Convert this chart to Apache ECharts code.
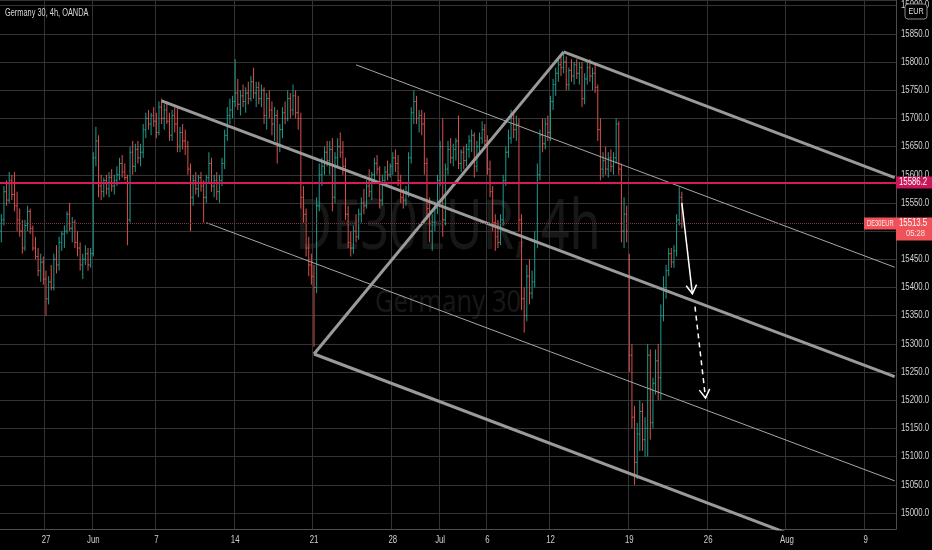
<!DOCTYPE html>
<html>
<head>
<meta charset="utf-8">
<script src="https://cdn.jsdelivr.net/npm/echarts@6/dist/echarts.min.js"></script>
<style>
html,body{margin:0;padding:0;background:#000;}
#main{width:932px;height:550px;}
</style>
</head>
<body>
<div id="main"></div>
<script>
// time axis: trading days (weekends skipped), six 4h bars a day
var firstDay = '2021-05-24';
var lastDay = '2021-08-10';
var firstSlot = 1;
var lastSlot = 5;
var slotHours = ['00:00', '04:00', '08:00', '12:00', '16:00', '20:00'];

var tickDates  = ['2021-05-27','2021-06-01','2021-06-07','2021-06-14','2021-06-21','2021-06-28','2021-07-01','2021-07-06','2021-07-12','2021-07-19','2021-07-26','2021-08-02','2021-08-09'];
var tickLabels = ['27','Jun','7','14','21','28','Jul','6','12','19','26','Aug','9'];
var priceTicks = [15000,15050,15100,15150,15200,15250,15300,15350,15400,15450,15500,15550,15600,15650,15700,15750,15800,15850,15900];

// 4h bars: [open, high, low, close]
var ohlc = [
[15500,15530,15480,15520],[15520,15580,15510,15570],[15570,15590,15545,15555],[15555,15605,15550,15590],[15590,15600,15555,15565],
[15565,15605,15535,15545],[15545,15570,15500,15520],[15520,15540,15490,15500],[15500,15520,15460,15470],[15470,15520,15465,15510],[15510,15545,15500,15535],
[15535,15540,15495,15505],[15505,15510,15465,15470],[15470,15490,15450,15455],[15455,15470,15420,15430],[15430,15460,15410,15445],[15445,15455,15405,15415],
[15415,15430,15350,15380],[15380,15420,15370,15410],[15410,15440,15395,15400],[15400,15460,15395,15450],[15450,15475,15425,15440],[15440,15490,15430,15480],
[15480,15500,15465,15495],[15495,15510,15470,15500],[15500,15535,15495,15530],[15530,15550,15500,15505],[15505,15525,15480,15515],[15515,15520,15470,15480],
[15480,15500,15455,15470],[15470,15480,15430,15440],[15440,15460,15415,15450],[15450,15475,15440,15460],[15460,15470,15430,15440],[15440,15470,15435,15460],
[15460,15640,15455,15630],[15630,15685,15615,15660],[15660,15670,15560,15580],[15580,15600,15555,15570],[15570,15595,15560,15590],[15590,15600,15565,15575],
[15575,15605,15560,15595],[15595,15610,15570,15580],[15580,15600,15565,15590],[15590,15615,15580,15600],[15600,15630,15590,15620],[15620,15635,15595,15605],
[15605,15620,15590,15595],[15595,15600,15475,15520],[15520,15650,15515,15640],[15640,15660,15600,15615],[15615,15655,15605,15645],[15645,15660,15620,15630],
[15630,15655,15615,15640],[15640,15690,15630,15680],[15680,15710,15665,15700],[15700,15715,15680,15690],[15690,15710,15670,15705],[15705,15720,15685,15695],
[15695,15710,15665,15675],[15675,15730,15670,15720],[15720,15735,15690,15700],[15700,15725,15680,15715],[15715,15730,15690,15695],[15695,15710,15660,15670],
[15670,15715,15660,15705],[15705,15720,15675,15690],[15690,15720,15640,15650],[15650,15685,15640,15675],[15675,15690,15645,15660],[15660,15680,15635,15650],
[15650,15660,15600,15610],[15610,15620,15500,15560],[15560,15600,15545,15590],[15590,15605,15565,15575],[15575,15600,15560,15595],[15595,15605,15570,15580],
[15580,15590,15515,15560],[15560,15600,15550,15595],[15595,15640,15585,15620],[15620,15630,15570,15580],[15580,15600,15560,15590],[15590,15605,15555,15570],
[15570,15600,15550,15590],[15590,15630,15580,15620],[15620,15680,15610,15670],[15670,15720,15660,15705],[15705,15735,15690,15715],[15715,15740,15700,15730],
[15730,15805,15720,15745],[15745,15770,15715,15725],[15725,15750,15705,15740],[15740,15760,15720,15730],[15730,15755,15710,15745],[15745,15765,15725,15735],
[15735,15775,15730,15765],[15765,15790,15735,15745],[15745,15765,15720,15755],[15755,15765,15725,15735],[15735,15760,15720,15750],[15750,15755,15690,15705],
[15705,15745,15680,15735],[15735,15750,15700,15715],[15715,15730,15670,15690],[15690,15720,15660,15705],[15705,15715,15620,15650],[15650,15690,15640,15680],
[15680,15720,15665,15710],[15710,15730,15690,15700],[15700,15750,15695,15735],[15735,15745,15700,15715],[15715,15760,15705,15740],[15740,15750,15700,15710],
[15710,15740,15680,15700],[15700,15710,15540,15560],[15560,15580,15515,15530],[15530,15540,15455,15470],[15470,15490,15420,15440],[15440,15460,15405,15420],
[15420,15440,15295,15400],[15400,15560,15390,15545],[15545,15620,15535,15600],[15600,15630,15580,15615],[15615,15650,15600,15640],[15640,15660,15615,15625],
[15625,15660,15600,15645],[15645,15665,15535,15560],[15560,15640,15550,15630],[15630,15665,15615,15650],[15650,15675,15630,15640],[15640,15660,15600,15615],
[15615,15630,15520,15530],[15530,15545,15470,15480],[15480,15500,15455,15470],[15470,15510,15460,15500],[15500,15530,15480,15490],[15490,15540,15485,15530],
[15530,15560,15515,15550],[15550,15575,15530,15545],[15545,15590,15540,15580],[15580,15610,15560,15570],[15570,15605,15555,15600],[15600,15630,15590,15620],
[15620,15635,15600,15610],[15610,15615,15540,15555],[15555,15600,15545,15590],[15590,15615,15580,15605],[15605,15625,15590,15600],[15600,15620,15595,15615],
[15615,15640,15600,15630],[15630,15645,15605,15620],[15620,15635,15580,15590],[15590,15600,15550,15560],[15560,15575,15540,15555],[15555,15580,15545,15570],
[15570,15640,15560,15630],[15630,15720,15620,15710],[15710,15750,15690,15730],[15730,15740,15690,15700],[15700,15715,15675,15705],[15705,15715,15670,15690],
[15690,15710,15600,15620],[15620,15630,15520,15540],[15540,15560,15480,15500],[15500,15530,15465,15515],[15515,15550,15500,15540],[15540,15600,15530,15590],
[15590,15660,15580,15650],[15650,15700,15490,15520],[15520,15620,15510,15610],[15610,15660,15600,15645],[15645,15665,15620,15630],[15630,15655,15615,15645],
[15645,15665,15625,15660],[15660,15705,15610,15620],[15620,15645,15605,15640],[15640,15650,15610,15625],[15625,15655,15615,15645],[15645,15670,15630,15660],
[15660,15680,15640,15670],[15670,15675,15595,15615],[15615,15660,15605,15650],[15650,15675,15640,15665],[15665,15695,15655,15680],[15680,15690,15650,15660],
[15660,15670,15600,15610],[15610,15625,15560,15570],[15570,15580,15500,15515],[15515,15530,15465,15490],[15490,15520,15470,15480],[15480,15530,15475,15520],
[15520,15600,15510,15590],[15590,15650,15580,15640],[15640,15680,15630,15665],[15665,15715,15655,15700],[15700,15710,15665,15680],[15680,15705,15660,15690],
[15690,15700,15500,15520],[15520,15530,15360,15380],[15380,15400,15320,15350],[15350,15440,15340,15420],[15420,15450,15370,15390],[15390,15430,15380,15410],
[15410,15500,15400,15480],[15480,15620,15470,15600],[15600,15680,15590,15670],[15670,15700,15640,15655],[15655,15700,15645,15690],[15690,15705,15660,15675],
[15675,15740,15660,15730],[15730,15770,15715,15760],[15760,15790,15740,15780],[15780,15805,15765,15795],[15795,15810,15775,15790],[15790,15816,15780,15800],
[15800,15810,15750,15760],[15760,15790,15750,15785],[15785,15805,15765,15775],[15775,15800,15760,15795],[15795,15805,15770,15780],[15780,15800,15760,15790],
[15790,15800,15720,15735],[15735,15780,15725,15770],[15770,15800,15760,15790],[15790,15805,15765,15775],[15775,15790,15750,15780],[15780,15795,15745,15755],
[15755,15760,15660,15680],[15680,15700,15590,15610],[15610,15640,15595,15625],[15625,15650,15600,15610],[15610,15640,15595,15630],[15630,15645,15605,15615],
[15615,15640,15600,15630],[15630,15700,15620,15690],[15690,15695,15600,15610],[15610,15620,15480,15500],[15500,15560,15470,15530],[15530,15545,15480,15500],
[15450,15460,15250,15280],[15280,15300,15150,15170],[15170,15190,15050,15090],[15090,15160,15060,15140],[15140,15200,15110,15180],[15180,15195,15110,15130],
[15130,15170,15100,15150],[15150,15300,15100,15280],[15280,15290,15130,15160],[15160,15240,15150,15230],[15230,15290,15210,15270],[15270,15300,15200,15240],
[15240,15370,15200,15350],[15350,15420,15340,15400],[15400,15440,15380,15430],[15430,15470,15420,15460],[15460,15470,15435,15445],[15445,15475,15435,15465],
[15465,15530,15455,15520],[15520,15578,15510,15560],[15560,15570,15505,15513.5]
];

// drawn annotations, [bar index, price] pairs
var thickLines = [
  [61, 15731, 340, 15242],
  [214, 15818, 340, 15595],
  [119, 15282, 340, 14892],
  [119, 15282, 214, 15818]
];
var thinLines = [
  [135, 15795, 340, 15436],
  [78, 15515, 340, 15057]
];
var solidArrow = [[259, 15550, 263, 15389]];
var dashedArrow = [[264, 15366, 268, 15204]];

var resistance = 15586.2;
var lastPrice = 15513.5;
var lastCountdown = '05:28';

// ---------------------------------------------------------------
var uiFont = "'Liberation Sans', 'DejaVu Sans', sans-serif";
var markFont = "'Noto Sans', 'Open Sans', sans-serif";

var categories = [];
var dayStart = {};
(function () {
  var d = new Date(firstDay + 'T00:00:00Z');
  var end = new Date(lastDay + 'T00:00:00Z');
  while (d <= end) {
    var wd = d.getUTCDay();
    if (wd !== 0 && wd !== 6) {
      var ds = d.toISOString().slice(0, 10);
      var s0 = ds === firstDay ? firstSlot : 0;
      var s1 = ds === lastDay ? lastSlot : 5;
      dayStart[ds] = categories.length;
      for (var s = s0; s <= s1; s++) categories.push(ds + ' ' + slotHours[s]);
    }
    d.setUTCDate(d.getUTCDate() + 1);
  }
})();

var tickAt = {};
tickDates.forEach(function (t, k) { tickAt[dayStart[t]] = tickLabels[k]; });
function isTick(index) { return tickAt[index] !== undefined; }

var barData = ohlc.map(function (b, i) { return [i, b[0], b[1], b[2], b[3]]; });

function renderBar(params, api) {
  var i = api.value(0);
  var o = api.value(1), h = api.value(2), l = api.value(3), c = api.value(4);
  var pH = api.coord([i, h]), pL = api.coord([i, l]);
  var pO = api.coord([i, o]), pC = api.coord([i, c]);
  var w = api.size([1, 0])[0] * 0.45;
  var col = c >= o ? '#1f9c8b' : '#d9504c';
  var st = { stroke: col, lineWidth: 1 };
  return {
    type: 'group',
    children: [
      { type: 'line', shape: { x1: pH[0], y1: pH[1], x2: pL[0], y2: pL[1] }, style: st },
      { type: 'line', shape: { x1: pO[0] - w, y1: pO[1], x2: pO[0], y2: pO[1] }, style: st },
      { type: 'line', shape: { x1: pC[0], y1: pC[1], x2: pC[0] + w, y2: pC[1] }, style: st }
    ]
  };
}

function arrowRenderer(dash) {
  return function (params, api) {
    var a = api.coord([api.value(0), api.value(1)]);
    var b = api.coord([api.value(2), api.value(3)]);
    var ang = Math.atan2(b[1] - a[1], b[0] - a[0]);
    var len = 10, spread = 0.55;
    var h1 = [b[0] - len * Math.cos(ang - spread), b[1] - len * Math.sin(ang - spread)];
    var h2 = [b[0] - len * Math.cos(ang + spread), b[1] - len * Math.sin(ang + spread)];
    return {
      type: 'group',
      children: [
        { type: 'line', shape: { x1: a[0], y1: a[1], x2: b[0], y2: b[1] },
          style: { stroke: '#ffffff', lineWidth: 1.5, lineDash: dash } },
        { type: 'polyline', shape: { points: [h1, b, h2] },
          style: { stroke: '#ffffff', lineWidth: 1.5, fill: null } }
      ]
    };
  };
}

function segSeries(seg, width, color) {
  return {
    type: 'line',
    data: [[seg[0], seg[1]], [seg[2], seg[3]]],
    symbol: 'none',
    silent: true,
    z: 4,
    lineStyle: { color: color, width: width }
  };
}

var series = [
  {
    type: 'custom',
    name: 'DE30EUR',
    renderItem: renderBar,
    data: barData,
    encode: { x: 0, y: [1, 2, 3, 4] },
    z: 3,
    markLine: {
      silent: true,
      symbol: 'none',
      label: { show: false },
      data: [
        { yAxis: resistance, lineStyle: { color: '#d41c5c', width: 2, type: 'solid' } },
        { yAxis: lastPrice, lineStyle: { color: '#7a3a3e', width: 1, type: 'dotted' } }
      ]
    }
  }
];
thickLines.forEach(function (s) { series.push(segSeries(s, 3, '#9a9a9a')); });
thinLines.forEach(function (s) { series.push(segSeries(s, 1, '#a6a6a6')); });
series.push({ type: 'custom', renderItem: arrowRenderer(null), data: solidArrow, encode: { x: [0, 2], y: [1, 3] }, z: 6 });
series.push({ type: 'custom', renderItem: arrowRenderer([5, 4]), data: dashedArrow, encode: { x: [0, 2], y: [1, 3] }, z: 6 });

var chart = echarts.init(document.getElementById('main'));
chart.setOption({
  backgroundColor: '#000000',
  animation: false,
  grid: { left: 0, right: 36, top: 0, bottom: 21, containLabel: false, outerBoundsMode: 'none' },
  xAxis: {
    type: 'category',
    data: categories,
    boundaryGap: true,
    axisLine: { show: true, lineStyle: { color: '#4d4d4d' } },
    axisTick: { show: false },
    axisLabel: { show: false },
    splitLine: {
      show: true,
      interval: function (index) { return isTick(index); },
      lineStyle: { color: '#333333', width: 1 }
    }
  },
  yAxis: {
    type: 'value',
    position: 'right',
    min: 14971.6,
    max: 15910,
    splitNumber: 19,
    minInterval: 50,
    maxInterval: 50,
    axisLine: { show: true, lineStyle: { color: '#4d4d4d' } },
    axisTick: { show: false },
    axisLabel: { show: false },
    splitLine: { lineStyle: { color: '#333333', width: 1 } }
  },
  series: series
});

// text in the screenshot is horizontally condensed, so labels are drawn as scaled text
function label(x, y, text, size, color, sx, z, extra) {
  var st = { text: text, fill: color, font: size + 'px ' + uiFont, verticalAlign: 'middle' };
  for (var k in (extra || {})) st[k] = extra[k];
  return { type: 'text', x: x, y: y, scaleX: sx, z: z, silent: true, style: st };
}

var right = chart.convertToPixel({ xAxisIndex: 0 }, categories.length - 1) + 1.3;
var bottom = chart.convertToPixel({ yAxisIndex: 0 }, 14971.6);
var yRes = chart.convertToPixel({ yAxisIndex: 0 }, resistance);
var yLast = chart.convertToPixel({ yAxisIndex: 0 }, lastPrice);
var paneMid = right / 2;

var g = [
  { type: 'text', x: paneMid, y: 229, scaleX: 0.72, z: -5, silent: true,
    style: { text: 'DE30EUR, 4h', fill: 'rgba(255,255,255,0.09)', font: '70px ' + markFont, align: 'center', verticalAlign: 'middle' } },
  { type: 'text', x: paneMid, y: 303, scaleX: 0.85, z: -5, silent: true,
    style: { text: 'Germany 30', fill: 'rgba(255,255,255,0.09)', font: '30px ' + markFont, align: 'center', verticalAlign: 'middle' } },
  label(5, 13, 'Germany 30, 4h, OANDA', 10, '#d8d8d8', 0.74, 40)
];

priceTicks.forEach(function (p) {
  g.push(label(right + 5, chart.convertToPixel({ yAxisIndex: 0 }, p), p.toFixed(1), 10, '#d4d4d4', 0.78, 40));
});
tickDates.forEach(function (t, k) {
  var x = chart.convertToPixel({ xAxisIndex: 0 }, dayStart[t]);
  g.push(label(x, bottom + 11, tickLabels[k], 10, '#cfcfcf', 0.78, 40, { align: 'center' }));
});

g.push(
  { type: 'rect', shape: { x: right, y: yRes - 6, width: 36, height: 12 }, z: 50, style: { fill: '#c8185a' } },
  label(right + 3, yRes, resistance.toFixed(1), 10, '#ffffff', 0.78, 51),
  { type: 'rect', shape: { x: right - 32, y: yLast - 6, width: 32, height: 12 }, z: 50, style: { fill: '#f0525a' } },
  label(right - 29, yLast, 'DE30EUR', 9, '#ffe9ea', 0.64, 51),
  { type: 'rect', shape: { x: right, y: yLast - 6, width: 36, height: 23 }, z: 50, style: { fill: '#f0525a' } },
  label(right + 3, yLast, lastPrice.toFixed(1), 10, '#ffffff', 0.78, 51),
  label(right + 10, yLast + 10, lastCountdown, 9.5, '#ffe3e4', 0.8, 51),
  { type: 'rect', shape: { x: 905, y: 4, width: 22, height: 15, r: 3 }, z: 52, style: { fill: '#000000', stroke: '#8a8a8a', lineWidth: 1 } },
  { type: 'text', x: 916, y: 11.5, scaleX: 0.8, z: 53, silent: true,
    style: { text: 'EUR', fill: '#e0e0e0', font: '9px ' + uiFont, align: 'center', verticalAlign: 'middle' } }
);

chart.setOption({ graphic: g });
</script>
</body>
</html>
